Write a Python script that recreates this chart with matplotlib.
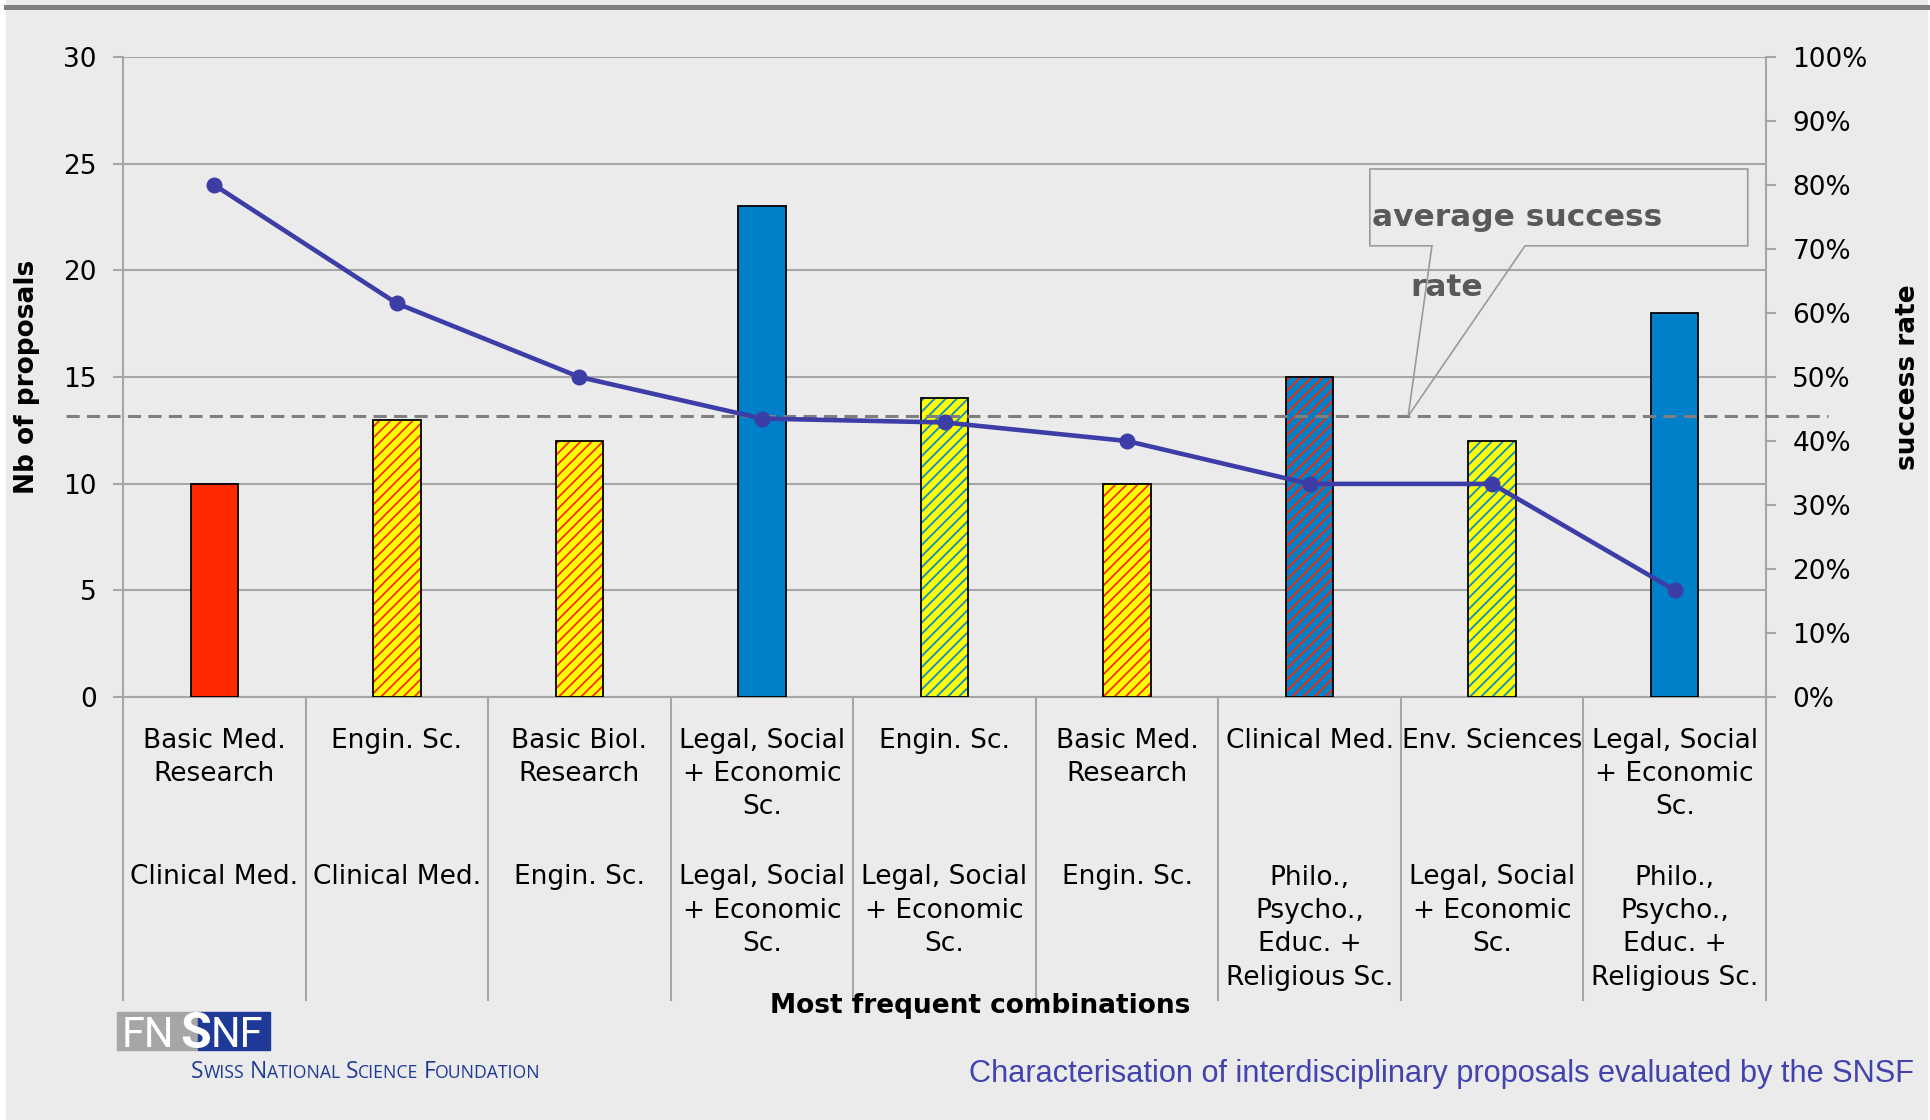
import matplotlib
matplotlib.use('Agg')
import matplotlib.pyplot as plt
import matplotlib.transforms as mtransforms
from matplotlib.patches import Rectangle, Polygon
from matplotlib.lines import Line2D
from matplotlib.ticker import FuncFormatter, FixedLocator
from matplotlib import font_manager as fm

# ---------------- data ----------------
level1 = ["Basic Med.\nResearch", "Engin. Sc.", "Basic Biol.\nResearch",
          "Legal, Social\n+ Economic\nSc.", "Engin. Sc.", "Basic Med.\nResearch",
          "Clinical Med.", "Env. Sciences", "Legal, Social\n+ Economic\nSc."]
level2 = ["Clinical Med.", "Clinical Med.", "Engin. Sc.",
          "Legal, Social\n+ Economic\nSc.", "Legal, Social\n+ Economic\nSc.", "Engin. Sc.",
          "Philo.,\nPsycho.,\nEduc. +\nReligious Sc.", "Legal, Social\n+ Economic\nSc.",
          "Philo.,\nPsycho.,\nEduc. +\nReligious Sc."]
proposals = [10, 13, 12, 23, 14, 10, 15, 12, 18]
success_rate = [80.0, 61.5, 50.0, 43.5, 42.9, 40.0, 33.3, 33.3, 16.7]
average_rate = 43.9
left_ticks = [0, 5, 10, 15, 20, 25, 30]
right_ticks = [0, 10, 20, 30, 40, 50, 60, 70, 80, 90, 100]

# ---------------- styles ----------------
RED = '#FF2A00'
YEL = '#FFFF00'
BLUE = '#0080C8'
LBLUE = '#0A8CCD'
face_colors = [RED, YEL, YEL, BLUE, YEL, YEL, BLUE, YEL, BLUE]
hatch_colors = [None, RED, RED, None, LBLUE, RED, RED, LBLUE, None]
GRID = '#A6A6A6'
LINE = '#3D3DA8'

plt.rcParams['font.family'] = ['DejaVu Sans']
plt.rcParams['hatch.linewidth'] = 1.3

W, H = 1930, 1120
fig = plt.figure(figsize=(W / 100, H / 100), dpi=100, facecolor='white')


def fx(px):
    return px / W


def fy(py):
    return 1 - py / H


# background and top rule
fig.add_artist(Rectangle((fx(6), 0), fx(1927) - fx(6), 1, color='#EBEBEB',
                         transform=fig.transFigure, zorder=-10))
fig.add_artist(Line2D([fx(6), fx(1927)], [fy(6.5), fy(6.5)], color='#7F7F7F',
                      lw=3.6, transform=fig.transFigure, zorder=-9))

ax_l, ax_r, ax_t, ax_b = 123, 1766, 57, 697
ax = fig.add_axes([fx(ax_l), fy(ax_b), fx(ax_r) - fx(ax_l), (ax_b - ax_t) / H])
ax.set_facecolor('none')
n = len(proposals)
x = list(range(n))
ax.set_xlim(-0.5, n - 0.5)
ax.set_ylim(left_ticks[0], left_ticks[-1])
ax.yaxis.set_major_locator(FixedLocator(left_ticks))
ax.set_xticks([])
ax.yaxis.grid(True, color=GRID, lw=1.5)
ax.set_axisbelow(True)
for s in ['top', 'right']:
    ax.spines[s].set_visible(False)
for s in ['left', 'bottom']:
    ax.spines[s].set_color(GRID)
    ax.spines[s].set_linewidth(1.5)
ax.tick_params(axis='y', length=7, width=1.5, color=GRID, pad=12, labelsize=19)

bw = 0.26
for i in range(n):
    if hatch_colors[i] is None:
        ax.bar(x[i], proposals[i], width=bw, color=face_colors[i], edgecolor='black',
               lw=1.3, zorder=3)
    else:
        ax.bar(x[i], proposals[i], width=bw, color=face_colors[i],
               edgecolor=hatch_colors[i], hatch='///', lw=0, zorder=3)
        ax.bar(x[i], proposals[i], width=bw, fill=False, edgecolor='black', lw=1.3, zorder=4)

# category separators and labels
blend = mtransforms.blended_transform_factory(ax.transData, ax.transAxes)
sep_bottom = -(1000 - ax_b) / (ax_b - ax_t)
for i in range(n + 1):
    ax.plot([i - 0.5, i - 0.5], [0, sep_bottom], transform=blend, color=GRID, lw=1.5,
            clip_on=False)


def yax(py):
    return (ax_b - py) / (ax_b - ax_t)


for i in range(n):
    ax.text(x[i], yax(727.5), level1[i], transform=blend, ha='center', va='top',
            multialignment='center', linespacing=1.37, fontsize=19)
    ax.text(x[i], yax(864.5), level2[i], transform=blend, ha='center', va='top',
            multialignment='center', linespacing=1.37, fontsize=19)

# secondary axis
ax2 = ax.twinx()
ax2.set_ylim(right_ticks[0], right_ticks[-1])
ax2.yaxis.set_major_locator(FixedLocator(right_ticks))
ax2.yaxis.set_major_formatter(FuncFormatter(lambda v, p: f'{v:.0f}%'))
for s in ['top', 'left', 'bottom']:
    ax2.spines[s].set_visible(False)
ax2.spines['right'].set_color(GRID)
ax2.spines['right'].set_linewidth(1.5)
ax2.tick_params(axis='y', length=7, width=1.5, color=GRID, pad=12, labelsize=19)

ax2.plot([-0.81, 8.84], [average_rate, average_rate], ls=(0, (4.3, 2.4)), color='#7F7F7F',
         lw=2.2, clip_on=False, zorder=4)
ax2.plot(x, success_rate, color=LINE, lw=3.3, marker='o', ms=10.5, zorder=6)

# callout
bx0, bx1 = 6.33, 8.40
byt, byb = 82.5, 70.5
p1, p2, tipx = 6.67, 7.18, 6.54
callout = Polygon([(bx0, byt), (bx1, byt), (bx1, byb), (p2, byb), (tipx, average_rate),
                   (p1, byb), (bx0, byb)], closed=True, fill=False, edgecolor='#9A9A9A',
                  lw=1.2, zorder=5, clip_on=False)
ax2.add_patch(callout)
ax2.text(6.34, 75.0, 'average success', fontsize=22.5, fontweight='bold', color='#595959',
         ha='left', va='center', zorder=7)
ax2.text(6.75, 64.0, 'rate', fontsize=22.5, fontweight='bold', color='#595959',
         ha='center', va='center', zorder=7)

# axis titles
fig.text(fx(27), fy(377), 'Nb of proposals', rotation=90, ha='center', va='center',
         fontweight='bold', fontsize=19)
fig.text(fx(1908), fy(377), 'success rate', rotation=90, ha='center', va='center',
         fontweight='bold', fontsize=19)
fig.text(fx(980), fy(1006), 'Most frequent combinations', ha='center', va='center',
         fontweight='bold', fontsize=19)

# ---------------- footer ----------------
names = {f.name for f in fm.fontManager.ttflist}
title_family = ['Liberation Sans Narrow'] if 'Liberation Sans Narrow' in names else ['Liberation Sans']
renderer = fig.canvas.get_renderer()

title = fig.text(fx(969), fy(1082), 'Characterisation of interdisciplinary proposals evaluated by the SNSF',
                 ha='left', va='baseline', color='#4343AE', family=title_family, fontsize=22)
w = title.get_window_extent(renderer).width
title.set_fontsize(22 * (1910 - 969) / w)

# logo
NAVY = '#1E3A96'
fig.add_artist(Rectangle((fx(117), fy(1050)), fx(198) - fx(117), (1050 - 1012) / H,
                         color='#A6A6A6', transform=fig.transFigure, zorder=1))
fig.add_artist(Rectangle((fx(198), fy(1050)), fx(270) - fx(198), (1050 - 1012) / H,
                         color=NAVY, transform=fig.transFigure, zorder=1))
fig.text(fx(122), fy(1047), 'FN', color='white', family=['Roboto'], fontsize=30,
         ha='left', va='baseline', zorder=2)
fig.text(fx(196), fy(1048), 'S', color='white', family=['Roboto'], fontweight='bold',
         fontsize=36, ha='center', va='baseline', zorder=2)
fig.text(fx(211), fy(1047), 'NF', color='white', family=['Roboto'], fontsize=30,
         ha='left', va='baseline', zorder=2)


def small_caps(text, x0, x1, base, big, small, color, family):
    words = text.split(' ')

    def build(scale):
        arts = []
        xp = x0
        for k, wd in enumerate(words):
            for j, ch in enumerate([wd[0], wd[1:]]):
                if not ch:
                    continue
                t = fig.text(fx(xp), fy(base), ch, color=color, family=family,
                             fontsize=(big if j == 0 else small) * scale,
                             ha='left', va='baseline')
                arts.append(t)
                xp += t.get_window_extent(renderer).width
            xp += 0.3 * small * scale * 100 / 72
        return arts, xp - 0.3 * small * scale * 100 / 72 - x0

    arts, width = build(1.0)
    for a in arts:
        a.remove()
    build((x1 - x0) / width)


small_caps('SWISS NATIONAL SCIENCE FOUNDATION', 191, 539, 1078, 16, 12.4, NAVY, ['Open Sans'])

fig.savefig('out.png', dpi=100, facecolor=fig.get_facecolor())
